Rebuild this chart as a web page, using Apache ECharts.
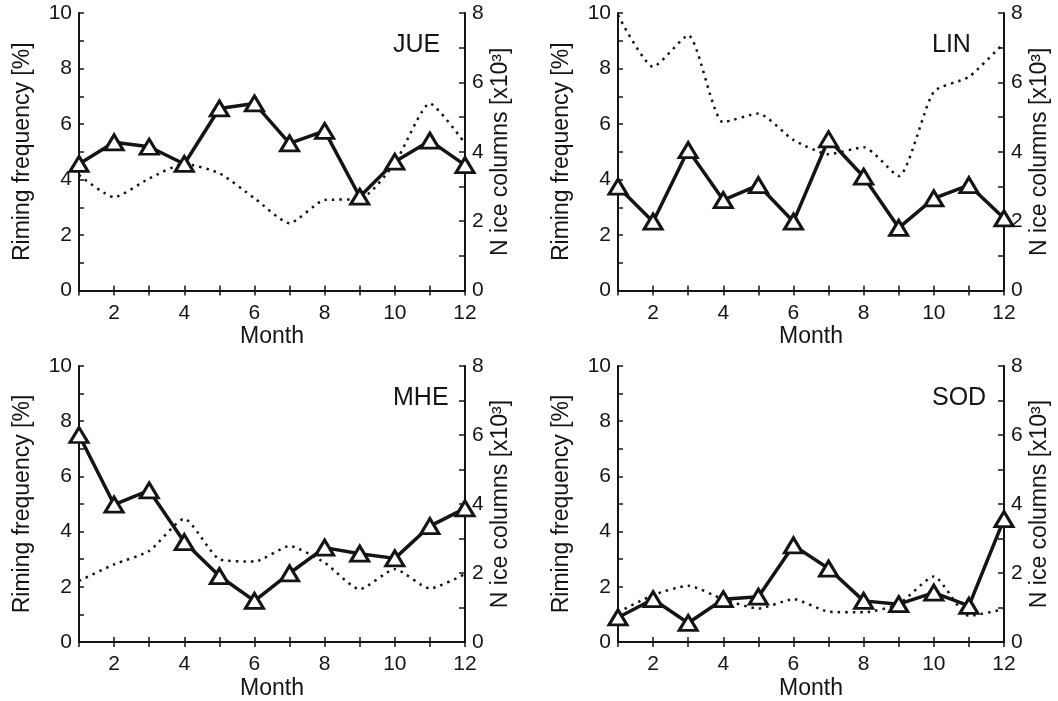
<!DOCTYPE html>
<html>
<head>
<meta charset="utf-8">
<script src="https://cdn.jsdelivr.net/npm/echarts@6/dist/echarts.min.js"></script>
<style>
html,body{margin:0;padding:0;background:#fff;}
#main{width:1058px;height:701px;}
</style>
</head>
<body>
<div id="main"></div>
<script>
// ---- data ----
const months = [1,2,3,4,5,6,7,8,9,10,11,12];
const stations = ['JUE','LIN','MHE','SOD'];
const jueRiming = [4.56, 5.34, 5.18, 4.56, 6.56, 6.74, 5.3, 5.75, 3.38, 4.64, 5.4, 4.52];
const jueCount  = [3.33, 2.69, 3.23, 3.65, 3.38, 2.66, 1.94, 2.61, 2.63, 3.67, 5.39, 4.24];
const linRiming = [3.74, 2.48, 5.06, 3.26, 3.8, 2.48, 5.45, 4.1, 2.26, 3.32, 3.8, 2.6];
const linCount  = [7.94, 6.45, 7.36, 4.85, 5.1, 4.34, 3.93, 4.13, 3.3, 5.73, 6.16, 7.14];
const mheRiming = [7.5, 4.98, 5.49, 3.62, 2.39, 1.49, 2.49, 3.42, 3.2, 3.03, 4.2, 4.84];
const mheCount  = [1.77, 2.25, 2.64, 3.57, 2.4, 2.33, 2.78, 2.3, 1.53, 2.11, 1.55, 1.97];
const sodRiming = [0.89, 1.55, 0.69, 1.55, 1.64, 3.5, 2.66, 1.49, 1.37, 1.79, 1.31, 4.45];
const sodCount  = [0.86, 1.36, 1.63, 1.24, 0.97, 1.24, 0.88, 0.86, 1.1, 1.9, 0.76, 0.95];
const rimingSeries = [jueRiming, linRiming, mheRiming, sodRiming];
const countSeries = [jueCount, linCount, mheCount, sodCount];
const xTickLabels = [2,4,6,8,10,12];
const leftTickLabels = [0,2,4,6,8,10];
const rightTickLabels = [0,2,4,6,8];
const xTitle = 'Month';
const leftTitle = 'Riming frequency [%]';
const rightTitle = 'N ice columns [x10\u00B3]';

// ---- layout ----
const FONT = '"Liberation Sans", Arial, Helvetica, sans-serif';
const INK = '#141414';
const panels = [
  {left:79,  top:13,  width:386, height:277.5},
  {left:618, top:13,  width:386, height:277.5},
  {left:79,  top:366, width:386, height:277},
  {left:618, top:366, width:386, height:277}
];

const grids = [], xAxes = [], yAxes = [], series = [], titles = [];
const axisLine = {show:true, lineStyle:{color:INK, width:2}};
const tick = {show:true, inside:true, length:5, lineStyle:{color:INK, width:1.5}};

panels.forEach((p, i) => {
  grids.push({left:p.left, top:p.top, width:p.width, height:p.height, containLabel:false});
  xAxes.push({
    type:'value', gridIndex:i, position:'bottom', min:1, max:12, interval:1,
    axisLine, axisTick:tick, splitLine:{show:false},
    axisLabel:{show:true, margin:12, fontFamily:FONT, fontSize:21, color:INK,
      formatter: v => xTickLabels.includes(v) ? String(v) : ''},
    name:xTitle, nameLocation:'middle', nameGap:35,
    nameTextStyle:{fontFamily:FONT, fontSize:23, color:INK}
  });
  xAxes.push({
    type:'value', gridIndex:i, position:'top', min:1, max:12, interval:1,
    axisLine, axisTick:tick, splitLine:{show:false}, axisLabel:{show:false}
  });
  yAxes.push({
    type:'value', gridIndex:i, position:'left', min:0, max:10, interval:1,
    axisLine, axisTick:tick, splitLine:{show:false},
    axisLabel:{show:true, margin:7, fontFamily:FONT, fontSize:21, color:INK,
      formatter: v => leftTickLabels.includes(v) ? String(v) : ''},
    name:leftTitle, nameLocation:'middle', nameGap:45, nameRotate:90,
    nameTextStyle:{fontFamily:FONT, fontSize:23, color:INK}
  });
  yAxes.push({
    type:'value', gridIndex:i, position:'right', min:0, max:8, interval:1,
    axisLine, axisTick:{show:true, inside:true, length:6, lineStyle:{color:INK, width:1.5}},
    splitLine:{show:false},
    axisLabel:{show:true, margin:7, fontFamily:FONT, fontSize:21, color:INK,
      formatter: v => rightTickLabels.includes(v) ? String(v) : ''},
    name:rightTitle, nameLocation:'middle', nameGap:24, nameRotate:90,
    nameTextStyle:{fontFamily:FONT, fontSize:23, color:INK}
  });
  series.push({
    type:'line', xAxisIndex:2*i, yAxisIndex:2*i+1,
    data: months.map((m,k) => [m, countSeries[i][k]]),
    showSymbol:false, symbol:'none', smooth:0.2,
    lineStyle:{color:INK, width:2.5, type:[2.5,5]}, z:2, silent:true
  });
  series.push({
    type:'line', xAxisIndex:2*i, yAxisIndex:2*i,
    data: months.map((m,k) => [m, rimingSeries[i][k]]),
    symbol:'triangle', symbolSize:[18,15], showAllSymbol:true,
    lineStyle:{color:INK, width:3.5},
    itemStyle:{color:'#fff', borderColor:INK, borderWidth:3},
    z:3, silent:true
  });
  titles.push({
    text:stations[i], left:p.left+314, top:p.top+20, padding:0,
    textStyle:{fontFamily:FONT, fontSize:25, fontWeight:'normal', color:INK}
  });
});

const chart = echarts.init(document.getElementById('main'), null, {renderer:'canvas'});
chart.setOption({
  backgroundColor:'#fff',
  animation:false,
  title:titles,
  grid:grids,
  xAxis:xAxes,
  yAxis:yAxes,
  series:series
});
</script>
</body>
</html>
